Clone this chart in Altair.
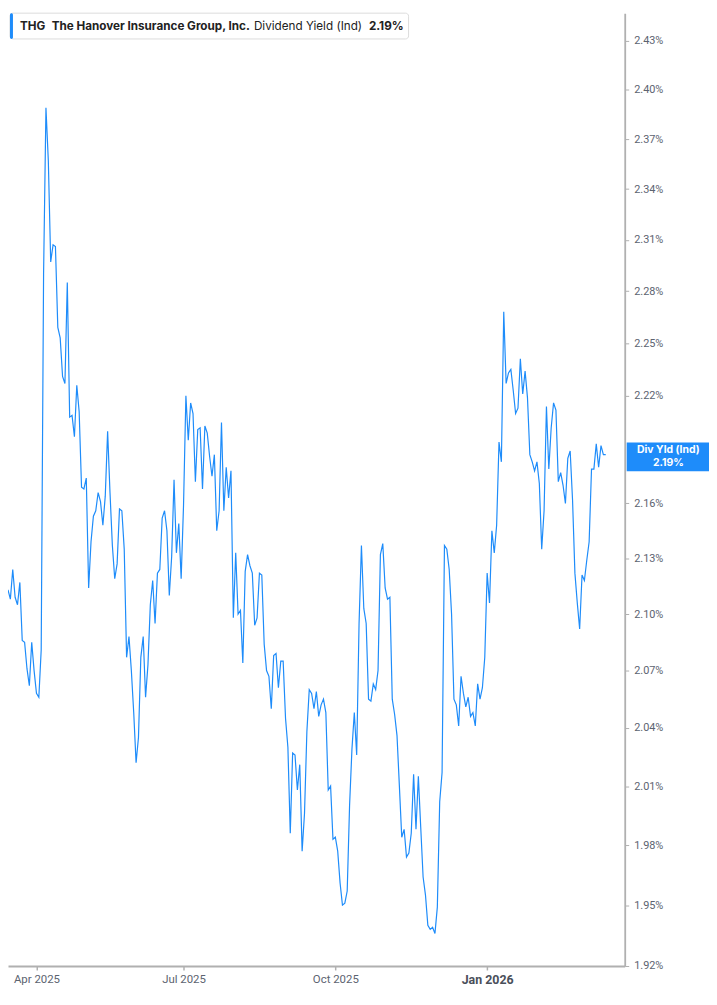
import altair as alt
import pandas as pd

# Dividend yield (%) per trading day, mid-Mar 2025 .. mid-Mar 2026
yield_pct = [
    2.113, 2.108, 2.124, 2.109, 2.105, 2.117, 2.086, 2.085, 2.071, 2.062, 2.085, 2.070, 2.058, 2.056, 2.081, 2.290, 2.389,
    2.357, 2.297, 2.307, 2.306, 2.259, 2.253, 2.231, 2.227, 2.285, 2.208, 2.209, 2.197, 2.226, 2.211, 2.169, 2.168, 2.174,
    2.114, 2.139, 2.153, 2.156, 2.166, 2.161, 2.148, 2.164, 2.200, 2.166, 2.137, 2.119, 2.127, 2.157, 2.156, 2.135, 2.077,
    2.088, 2.070, 2.048, 2.022, 2.035, 2.077, 2.088, 2.056, 2.073, 2.105, 2.118, 2.095, 2.122, 2.124, 2.152, 2.156, 2.145,
    2.110, 2.131, 2.173, 2.133, 2.149, 2.119, 2.159, 2.220, 2.195, 2.216, 2.210, 2.172, 2.201, 2.202, 2.168, 2.203, 2.199,
    2.186, 2.175, 2.187, 2.145, 2.156, 2.205, 2.156, 2.180, 2.163, 2.178, 2.098, 2.133, 2.100, 2.102, 2.074, 2.123, 2.132,
    2.126, 2.122, 2.094, 2.098, 2.122, 2.121, 2.084, 2.070, 2.067, 2.050, 2.078, 2.079, 2.061, 2.075, 2.075, 2.045, 2.030,
    1.986, 2.027, 2.026, 2.008, 2.021, 1.977, 1.996, 2.038, 2.060, 2.058, 2.050, 2.059, 2.046, 2.052, 2.055, 2.048, 2.008,
    2.010, 1.983, 1.984, 1.977, 1.961, 1.950, 1.951, 1.957, 2.000, 2.029, 2.048, 2.026, 2.095, 2.137, 2.103, 2.095, 2.055,
    2.054, 2.063, 2.060, 2.070, 2.132, 2.138, 2.114, 2.108, 2.109, 2.055, 2.047, 2.036, 2.010, 1.984, 1.988, 1.974, 1.976,
    1.986, 2.016, 1.988, 2.015, 1.989, 1.964, 1.955, 1.940, 1.938, 1.939, 1.936, 1.949, 2.002, 2.017, 2.137, 2.135, 2.124,
    2.100, 2.055, 2.052, 2.041, 2.067, 2.058, 2.051, 2.056, 2.046, 2.048, 2.041, 2.063, 2.055, 2.061, 2.077, 2.122, 2.106,
    2.145, 2.133, 2.148, 2.194, 2.183, 2.268, 2.227, 2.233, 2.235, 2.223, 2.210, 2.213, 2.241, 2.221, 2.234, 2.219, 2.187,
    2.183, 2.178, 2.183, 2.171, 2.135, 2.156, 2.214, 2.179, 2.202, 2.216, 2.212, 2.172, 2.177, 2.170, 2.160, 2.185, 2.189,
    2.162, 2.122, 2.106, 2.092, 2.121, 2.118, 2.129, 2.139, 2.179, 2.179, 2.193, 2.180, 2.192, 2.187, 2.187,
]

# x axis: trading-day index of the first session of each labelled month
x_tick_pos = [12, 74, 138, 202]
x_tick_labels = ["Apr 2025", "Jul 2025", "Oct 2025", "Jan 2026"]
x_bold_tick = 202

y_ticks = [1.92, 1.95, 1.98, 2.01, 2.04, 2.07, 2.10, 2.13, 2.16,
           2.22, 2.25, 2.28, 2.31, 2.34, 2.37, 2.40, 2.43]

header_ticker = "THG"
header_name = "The Hanover Insurance Group, Inc."
header_metric = "Dividend Yield (Ind)"
header_value = "2.19%"
callout_text = "Div Yld (Ind)\n2.19%"

BLUE = "#1e8cfa"
AXIS_GRAY = "#b0b0b0"
LABEL_GRAY = "#5c6370"
W, H = 622, 961

df = pd.DataFrame({"day": list(range(len(yield_pct))), "yield": yield_pct})
one = pd.DataFrame({"k": [0]})

label_expr = "".join(
    f"datum.value == {p} ? '{t}' : " for p, t in zip(x_tick_pos, x_tick_labels)
) + "''"

line = alt.Chart(df).mark_line(color=BLUE, strokeWidth=1.2, clip=True).encode(
    x=alt.X(
        "day:Q",
        scale=alt.Scale(domain=[0, 260], nice=False, zero=False),
        axis=alt.Axis(
            values=x_tick_pos,
            labelExpr=label_expr,
            title=None,
            grid=False,
            domainColor=AXIS_GRAY,
            domainWidth=1.8,
            tickColor=AXIS_GRAY,
            tickWidth=1.5,
            tickSize=4,
            labelPadding=4,
            labelFont="Roboto",
            labelColor={"condition": {"test": f"datum.value == {x_bold_tick}", "value": "#4a4f5a"}, "value": LABEL_GRAY},
            labelFontSize={"condition": {"test": f"datum.value == {x_bold_tick}", "value": 12.5}, "value": 11.5},
            labelFontWeight={"condition": {"test": f"datum.value == {x_bold_tick}", "value": "bold"}, "value": "normal"},
            labelFlush=False,
            labelOverlap=False,
        ),
    ),
    y=alt.Y(
        "yield:Q",
        scale=alt.Scale(type="log", domain=[1.92, 2.4472], nice=False, zero=False),
        axis=alt.Axis(
            orient="right",
            values=y_ticks,
            labelExpr="format(datum.value, '.2f') + '%'",
            title=None,
            grid=False,
            domainColor=AXIS_GRAY,
            domainWidth=1.8,
            tickColor=AXIS_GRAY,
            tickSize=4,
            labelPadding=5,
            labelFont="Roboto",
            labelFontSize=11,
            labelColor=LABEL_GRAY,
            labelOverlap=False,
            labelFlush=False,
        ),
    ),
)

header_box = alt.Chart(one).mark_rect(
    fill="white", stroke="#dcdcdc", strokeWidth=1, cornerRadius=3
).encode(x=alt.value(2), x2=alt.value(404), y=alt.value(0), y2=alt.value(26))

header_accent = alt.Chart(one).mark_rect(fill=BLUE, cornerRadius=1.5).encode(
    x=alt.value(2), x2=alt.value(5), y=alt.value(0), y2=alt.value(26)
)


def htext(txt, xpos, weight):
    return alt.Chart(one).mark_text(
        align="left", baseline="middle", font="Inter", fontSize=11.8,
        fontWeight=weight, color="#222222"
    ).encode(x=alt.value(xpos), y=alt.value(13), text=alt.value(txt))


header_texts = [
    htext(header_ticker, 12, "bold"),
    htext(header_name, 44, "bold"),
    htext(header_metric, 248, "normal"),
    htext(header_value, 364, "bold"),
]

callout_box = alt.Chart(one).mark_rect(fill=BLUE).encode(
    x=alt.value(624), x2=alt.value(707), y=alt.value(433), y2=alt.value(462)
)

callout = alt.Chart(one).mark_text(
    align="center", baseline="middle", font="Inter", fontSize=10.5,
    fontWeight="bold", color="white", lineBreak="\n", lineHeight=13
).encode(x=alt.value(666), y=alt.value(441), text=alt.value(callout_text))

chart = alt.layer(
    line, header_box, header_accent, *header_texts, callout_box, callout,
).properties(
    width=W, height=H, padding=0, background="white"
).configure_view(strokeWidth=0)

chart.save("out.html", embed_options={"renderer": "svg", "actions": False})
